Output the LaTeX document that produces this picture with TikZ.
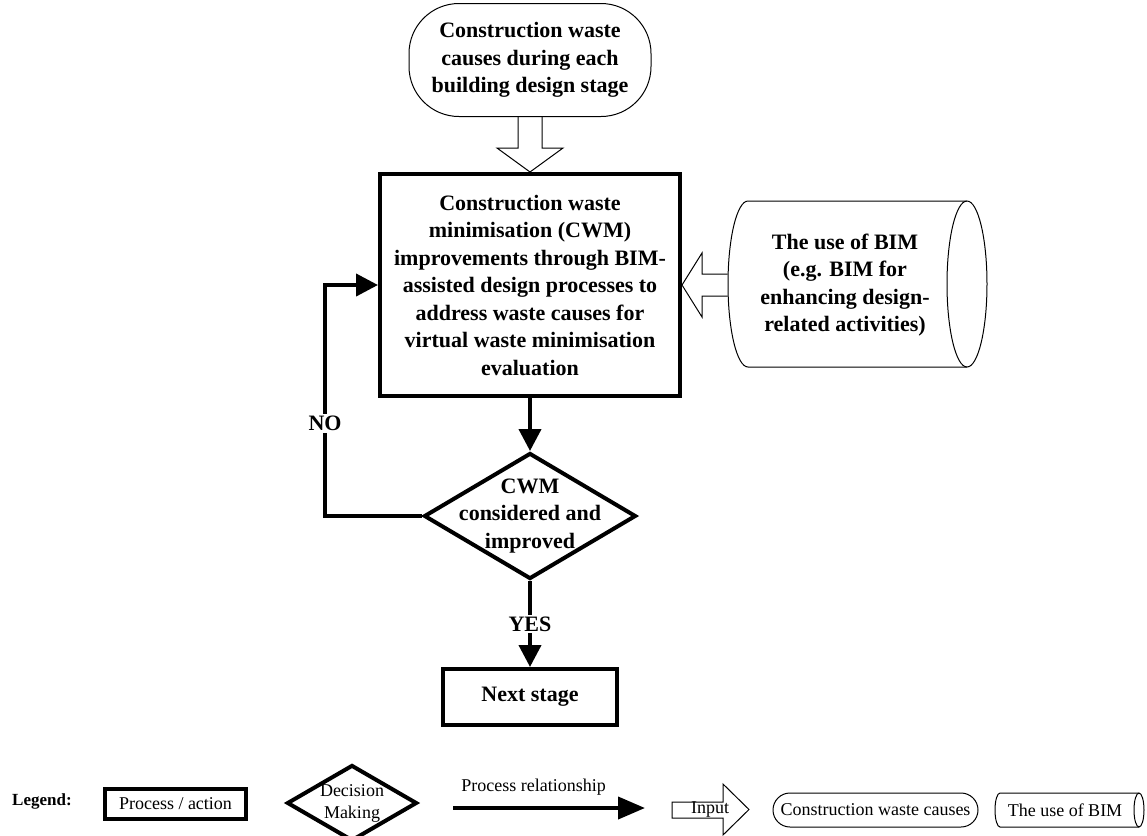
\documentclass[tikz,border=0pt]{standalone}
\usepackage{fontspec}
\setmainfont{Liberation Serif}
\usetikzlibrary{shapes.geometric,arrows.meta,calc}
\begin{document}
\begin{tikzpicture}[x=0.5pt,y=-0.5pt,
  big/.style={font=\fontsize{11}{13.75}\selectfont\bfseries, align=center},
  small/.style={font=\fontsize{9}{11}\selectfont, align=center},
  procbox/.style={draw, line width=2pt, inner sep=2pt},
  decbox/.style={draw, diamond, line width=2pt, inner sep=0pt},
  thinline/.style={draw, line width=0.5pt},
  openarrow/.style={line width=0.5pt},
  flow/.style={line width=2pt, -{Triangle[length=11pt,width=11pt]}},
  lbl/.style={big, fill=white, inner sep=1pt}
]
\useasboundingbox (0,0) rectangle (1147,836);

% ---------- main flow ----------
\node[thinline, big, rounded corners=25pt, minimum width=121pt, minimum height=56.5pt]
  (cause) at (530,60) {Construction waste\\causes during each\\building design stage};

\node[procbox, big, minimum width=150pt, minimum height=111pt]
  (main) at (530,285) {Construction waste\\minimisation (CWM)\\improvements through BIM-\\assisted design processes to\\address waste causes for\\virtual waste minimisation\\evaluation};

\node[decbox, minimum width=106pt, minimum height=63pt,
  label={[big, name=declbl]center:CWM\\considered and\\improved}]
  (dec) at (530,516) {};

\node[procbox, big, minimum width=87pt, minimum height=28pt]
  (next) at (530,697) {Next stage};

% BIM store (cylinder lying on its side)
\draw[line width=0.5pt]
  (748,201) -- (967,201)
  .. controls (978,201) and (987,238) .. (987,284)
  .. controls (987,330) and (978,367) .. (967,367)
  -- (748,367)
  .. controls (737,367) and (728,330) .. (728,284)
  .. controls (728,238) and (737,201) .. (748,201) -- cycle;
\draw[line width=0.5pt]
  (967,201) .. controls (956,201) and (947,238) .. (947,284)
  .. controls (947,330) and (956,367) .. (967,367);
\node[big, minimum width=117pt, minimum height=83pt]
  (bim) at (845,285) {The use of BIM\\(e.g. BIM for\\enhancing design-\\related activities)};

% open input arrows
\draw[openarrow]
  ($(cause.south)+(-12,0)$) -- ($(main.north)+(-12,-24)$) -- ($(main.north)+(-33,-24)$)
  -- (main.north) -- ($(main.north)+(33,-24)$) -- ($(main.north)+(12,-24)$)
  -- ($(cause.south)+(12,0)$);
\draw[openarrow]
  ($(bim.west)+(0,-11)$) -- ($(main.east)+(20,-11)$) -- ($(main.east)+(20,-32)$)
  -- (main.east) -- ($(main.east)+(20,32)$) -- ($(main.east)+(20,11)$)
  -- ($(bim.west)+(0,11)$);

% process relationships
\coordinate (loop) at (325,285);
\draw[flow] (main.south) -- (dec.north);
\draw[flow] (dec.west) -| node[pos=0.7, lbl] (nolbl) {NO} (loop) -- (main.west);
\draw[flow] (dec.south) -- node[lbl] (yeslbl) {YES} (next.north);

% ---------- legend ----------
\node[font=\fontsize{8.5}{11}\selectfont\bfseries] (legend) at (42,801) {Legend:};
\node[procbox, small, minimum width=70.5pt, minimum height=15pt]
  (lproc) at (175.5,804) {Process / action};
\node[decbox, minimum width=65pt, minimum height=38pt,
  label={[small, name=ldeclbl]center:Decision\\Making}]
  (ldec) at (352,803) {};

\coordinate (prA) at (453,808);
\coordinate (prB) at (645,808);
\draw[line width=2pt, -{Triangle[length=13.5pt,width=11pt]}]
  (prA) -- node[small, pos=0.42, yshift=10.5pt] (prlbl) {Process relationship} (prB);

\draw[openarrow] (672,802) -- (723,802) -- (723,784) -- (749,809.5) -- (723,835)
  -- (723,818) -- (672,818) -- cycle;
\node[small] (inlbl) at (710,810) {Input};

\node[thinline, small, rounded corners=8.5pt, minimum width=102.5pt, minimum height=17pt]
  (lcause) at (875.5,810) {Construction waste causes};

\draw[line width=0.5pt]
  (1000,793) -- (1139,793)
  .. controls (1141.8,793) and (1144,800.6) .. (1144,810)
  .. controls (1144,819.4) and (1141.8,827) .. (1139,827)
  -- (1000,827)
  .. controls (997.2,827) and (995,819.4) .. (995,810)
  .. controls (995,800.6) and (997.2,793) .. (1000,793) -- cycle;
\draw[line width=0.5pt]
  (1139,793) .. controls (1136.2,793) and (1134,800.6) .. (1134,810)
  .. controls (1134,819.4) and (1136.2,827) .. (1139,827);
\node[small] (lbim) at (1065,810) {The use of BIM};
\end{tikzpicture}
\end{document}
